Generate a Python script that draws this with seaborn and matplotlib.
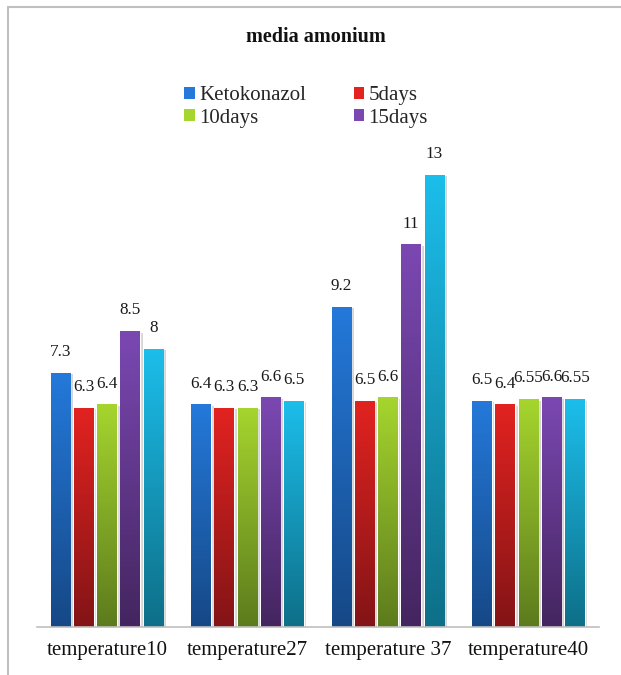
import numpy as np
import pandas as pd
import matplotlib
matplotlib.use("Agg")
import matplotlib.pyplot as plt
import seaborn as sns
from matplotlib.colors import LinearSegmentedColormap
from matplotlib.patches import Patch, Rectangle
import matplotlib.patheffects as pe

# ---- data ----
categories = ["temperature10", "temperature27", "temperature 37", "temperature40"]
series_names = ["Ketokonazol", "5days", "10days", "15days", "20days"]
ketokonazol = [7.3, 6.4, 9.2, 6.5]
days5 = [6.3, 6.3, 6.5, 6.4]
days10 = [6.4, 6.3, 6.6, 6.55]
days15 = [8.5, 6.6, 11, 6.6]
days20 = [8, 6.5, 13, 6.55]
legend_names = ["Ketokonazol", "5days", "10days", "15days"]
title = "media amonium"

top_colors = ["#2479DA", "#E22320", "#A6D52E", "#7B48B2", "#1CBEEB"]
bottom_colors = ["#164886", "#831416", "#5C7B1D", "#44255F", "#0E6F88"]

rows = []
for name, vals in zip(series_names, [ketokonazol, days5, days10, days15, days20]):
    for c, v in zip(categories, vals):
        rows.append({"category": c, "series": name, "value": v})
df = pd.DataFrame(rows)

sns.set_theme(style="white")
plt.rcParams["font.family"] = ["Liberation Serif", "DejaVu Serif"]
SERIF = "Liberation Serif"

fig = plt.figure(figsize=(6.21, 6.75), dpi=100)
ax = fig.add_axes([36.75 / 621, 48 / 675, (598.6 - 36.75) / 621, (627 - 140) / 675])

palette = dict(zip(series_names, top_colors))
sns.barplot(data=df, x="category", y="value", hue="series", order=categories,
            hue_order=series_names, palette=palette, width=0.826, gap=0.16,
            ax=ax, legend=False, saturation=1, errorbar=None)

# gradient fill + labels
for si, cont in enumerate(ax.containers):
    cmap = LinearSegmentedColormap.from_list(f"g{si}", [bottom_colors[si], top_colors[si]])
    vals = [ketokonazol, days5, days10, days15, days20][si]
    for bar, v in zip(cont, vals):
        x0 = bar.get_x()
        w = bar.get_width()
        h = bar.get_height()
        bar.set_path_effects([pe.SimplePatchShadow(offset=(2, -1), shadow_rgbFace="#888888", alpha=0.35),
                              pe.Normal()])
        grad = np.linspace(0, 1, 256).reshape(-1, 1)
        im = ax.imshow(grad, cmap=cmap, origin="lower", aspect="auto",
                       extent=[x0, x0 + w, 0, h], zorder=bar.get_zorder() + 0.1)
        im.set_clip_path(bar)
        ax.annotate(f"{v:g}", xy=(x0 + w / 2, h), xytext=(0, 15), textcoords="offset points",
                    ha="center", va="center", fontsize=12.3, family=SERIF, color="#1a1a1a")

ax.set_xlim(-0.5, len(categories) - 0.5)
ax.set_ylim(0, 14)
ax.set_xlabel("")
ax.set_ylabel("")
ax.set_yticks([])
for s in ["left", "right", "top"]:
    ax.spines[s].set_visible(False)
ax.spines["bottom"].set_color("#BFBFBF")
ax.spines["bottom"].set_linewidth(1.2)
ax.tick_params(axis="x", length=0, pad=10, labelsize=15, colors="#111111")
for lbl in ax.get_xticklabels():
    lbl.set_family(SERIF)

fig.text(316 / 621, 1 - 37 / 675, title, ha="center", va="center", fontsize=14.5,
         fontweight="bold", family=SERIF, color="#111111")

# legend filled row-wise: Ketokonazol, 5days / 10days, 15days
order = [0, 2, 1, 3]
handles = [Patch(facecolor=top_colors[i], edgecolor="none") for i in order]
labels = [legend_names[i] for i in order]
fig.legend(handles, labels, ncol=2, loc="center", bbox_to_anchor=(306 / 621, 1 - 107 / 675),
           frameon=False, prop={"family": SERIF, "size": 15}, handlelength=0.5,
           handleheight=0.5, handletextpad=0.2, columnspacing=2.3, labelspacing=0.15)

fig.add_artist(Rectangle((8 / 621, -0.1), 1.2, 1.1 - 7 / 675, transform=fig.transFigure,
                         fill=False, edgecolor="#C0C0C0", linewidth=1.5))

fig.savefig("out.png", dpi=100)
